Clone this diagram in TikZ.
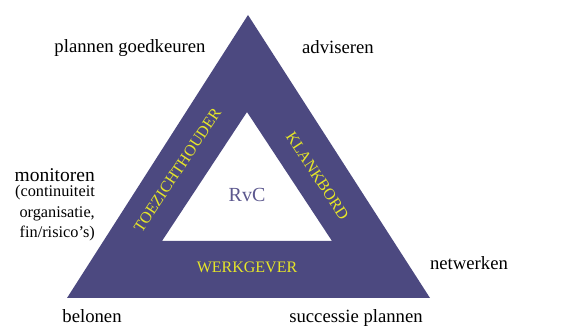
\documentclass[tikz,border=0pt]{standalone}
\usepackage{fontspec}
\setmainfont{Liberation Serif}
\definecolor{rvcblue}{RGB}{76,73,128}
\definecolor{rvctext}{RGB}{92,88,142}
\definecolor{roleyellow}{RGB}{230,230,40}
\tikzset{
  task/.style={font=\fontsize{18.7}{22}\selectfont, inner sep=0pt},
  role/.style={font=\fontsize{16}{19}\selectfont, text=roleyellow, inner sep=0pt},
}
\begin{document}
\begin{tikzpicture}[x=1pt,y=1pt]
            \useasboundingbox (0,0) rectangle (576,326);
            \coordinate (top) at (248,311);
            \coordinate (left) at (67,28);
            \coordinate (right) at (430,28);
            \coordinate (itop) at (247,214);
            \coordinate (ileft) at (162,85);
            \coordinate (iright) at (332,85);
            \fill[rvcblue, even odd rule] (left) -- (top) -- (right) -- cycle
                (ileft) -- (itop) -- (iright) -- cycle;
            \node[font=\fontsize{20}{24}\selectfont, text=rvctext] (rvc) at (247,131) {RvC};
            \node[role, rotate=56.5] (toezicht) at (177.5,156) {TOEZICHTHOUDER};
            \node[role, rotate=-56.5] (klankbord) at (317.5,150) {KLANKBORD};
            \node[role] (werkgever) at (247,59) {WERKGEVER};
            \node[task] (goedkeuren) at (130,278) {plannen goedkeuren};
            \node[task] (adviseren) at (338,279) {adviseren};
            \node[task, font=\fontsize{19.5}{22}\selectfont, anchor=east] (monitoren) at (95,151) {monitoren};
            \node[task, anchor=north east, align=right, font=\fontsize{16.3}{20.5}\selectfont]
                (details) at (95,141) {(continuiteit\\organisatie,\\fin/risico's)};
            \node[task] (netwerken) at (469,63) {netwerken};
            \node[task, anchor=base] (belonen) at (92,3) {belonen};
            \node[task, anchor=base] (successie) at (356,3) {successie plannen};
        \end{tikzpicture}
\end{document}
